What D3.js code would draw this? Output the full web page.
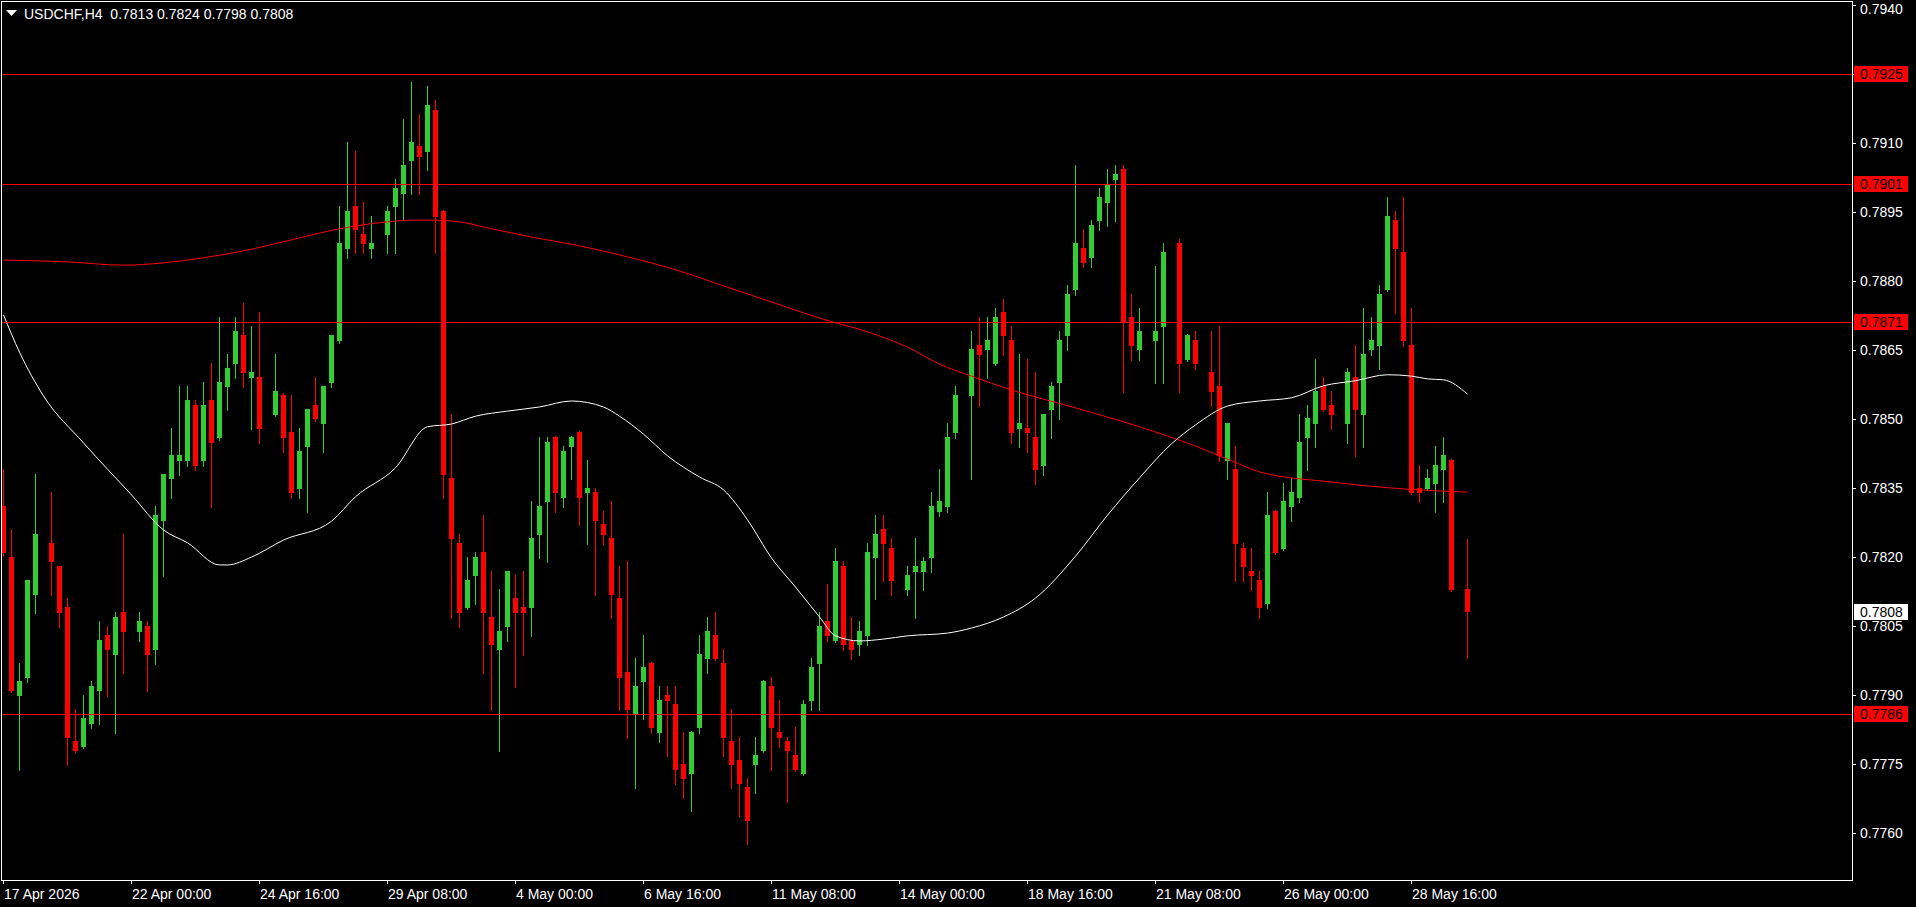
<!DOCTYPE html>
<html><head><meta charset="utf-8">
<script src="https://cdnjs.cloudflare.com/ajax/libs/d3/7.8.5/d3.min.js"></script>
<style>html,body{margin:0;padding:0;background:#000;overflow:hidden}svg{display:block}
text{font-family:"Liberation Sans",Arial,sans-serif;font-size:14px}</style>
</head><body><svg id="c" width="1916" height="907"></svg>
<script>
const symbolTitle = "USDCHF,H4";
const lastBarText = "0.7813 0.7824 0.7798 0.7808";

const open = [
0.78311,0.78200,0.77898,0.77937,0.78118,0.78237,0.78231,0.78181,0.78092,0.77800,
0.77788,0.77837,0.77909,0.78031,0.77987,0.78081,0.78037,0.78037,0.78050,0.77998,
0.78278,0.78370,0.78409,0.78409,0.78530,0.78409,0.78541,0.78459,0.78569,0.78619,
0.78682,0.78589,0.78591,0.78496,0.78509,0.78552,0.78472,0.78348,0.78439,0.78530,
0.78489,0.78578,0.78669,0.78869,0.78963,0.78902,0.78869,0.78889,0.78900,0.78960,
0.78989,0.79060,0.79093,0.79080,0.79171,0.78952,0.78372,0.78231,0.78089,0.78159,
0.78211,0.78070,0.77998,0.78048,0.78111,0.78092,0.78089,0.78248,0.78320,0.78461,
0.78328,0.78439,0.78472,0.78339,0.78341,0.78272,0.78242,0.78111,0.77950,0.77857,
0.77929,0.77970,0.77818,0.77900,0.77881,0.77751,0.77729,0.77829,0.77979,0.78031,
0.77970,0.77800,0.77759,0.77701,0.77748,0.77779,0.77920,0.77820,0.77800,0.77770,
0.77729,0.77887,0.77968,0.78061,0.78018,0.78181,0.78018,0.78009,0.78029,0.78198,
0.78261,0.78220,0.78139,0.78128,0.78168,0.78168,0.78198,0.78298,0.78309,0.78469,
0.78550,0.78550,0.78661,0.78650,0.78619,0.78732,0.78671,0.78478,0.78480,0.78461,
0.78398,0.78520,0.78578,0.78680,0.78780,0.78871,0.78850,0.78930,0.78969,0.79019,
0.79043,0.78722,0.78650,0.78682,0.78669,0.78700,0.78871,0.78882,0.78628,0.78671,
0.78611,0.78602,0.78572,0.78409,0.78391,0.78220,0.78170,0.78150,0.78098,0.78300,
0.78218,0.78309,0.78328,0.78459,0.78489,0.78572,0.78530,0.78502,0.78489,0.78591,
0.78509,0.78650,0.78658,0.78780,0.78932,0.78863,0.78661,0.78350,0.78348,0.78359,
0.78389,0.78411,0.78130,0.78130];
const high = [
0.78391,0.78261,0.77970,0.78150,0.78380,0.78259,0.78341,0.78181,0.78111,0.77870,
0.77900,0.77931,0.78061,0.78050,0.78081,0.78250,0.78052,0.78081,0.78061,0.78311,
0.78380,0.78480,0.78572,0.78572,0.78541,0.78580,0.78622,0.78722,0.78641,0.78722,
0.78752,0.78702,0.78732,0.78515,0.78641,0.78556,0.78552,0.78480,0.78522,0.78591,
0.78572,0.78682,0.78963,0.79102,0.79082,0.78971,0.78941,0.78910,0.78963,0.79021,
0.79152,0.79232,0.79162,0.79223,0.79193,0.78954,0.78511,0.78250,0.78200,0.78211,
0.78291,0.78170,0.78131,0.78170,0.78161,0.78170,0.78322,0.78461,0.78461,0.78463,
0.78441,0.78463,0.78474,0.78411,0.78350,0.78300,0.78322,0.78181,0.78192,0.77981,
0.78031,0.77972,0.77920,0.77920,0.77920,0.77820,0.77822,0.78031,0.78070,0.78081,
0.78000,0.77870,0.77809,0.77720,0.77809,0.77933,0.77940,0.77890,0.77809,0.77831,
0.77890,0.77981,0.78081,0.78142,0.78220,0.78192,0.78070,0.78061,0.78231,0.78291,
0.78291,0.78242,0.78161,0.78181,0.78242,0.78200,0.78341,0.78391,0.78491,0.78572,
0.78567,0.78691,0.78722,0.78722,0.78741,0.78761,0.78702,0.78641,0.78630,0.78602,
0.78511,0.78580,0.78691,0.78791,0.79052,0.78913,0.78932,0.79002,0.79043,0.79052,
0.79052,0.78771,0.78741,0.78704,0.78832,0.78882,0.78889,0.78891,0.78685,0.78691,
0.78632,0.78691,0.78702,0.78491,0.78441,0.78231,0.78220,0.78170,0.78341,0.78302,
0.78361,0.78372,0.78511,0.78530,0.78630,0.78591,0.78561,0.78520,0.78611,0.78661,
0.78741,0.78722,0.78791,0.78982,0.78952,0.78982,0.78741,0.78400,0.78391,0.78441,
0.78461,0.78413,0.78150,0.78240];
const low = [
0.78202,0.77907,0.77738,0.77929,0.78079,0.78215,0.78118,0.78048,0.77748,0.77777,
0.77785,0.77829,0.77837,0.77898,0.77818,0.77948,0.78020,0.78018,0.77909,0.77968,
0.78159,0.78328,0.78378,0.78398,0.78389,0.78398,0.78309,0.78454,0.78520,0.78589,
0.78569,0.78478,0.78448,0.78480,0.78506,0.78428,0.78328,0.78328,0.78298,0.78496,
0.78428,0.78569,0.78665,0.78850,0.78861,0.78861,0.78850,0.78871,0.78861,0.78861,
0.78932,0.78989,0.78989,0.79041,0.78861,0.78328,0.78068,0.78048,0.78087,0.78098,
0.77948,0.77868,0.77779,0.78018,0.77918,0.77987,0.78029,0.78198,0.78189,0.78298,
0.78309,0.78370,0.78270,0.78228,0.78118,0.78228,0.78068,0.77868,0.77807,0.77699,
0.77848,0.77818,0.77798,0.77768,0.77707,0.77677,0.77649,0.77818,0.77948,0.77977,
0.77768,0.77699,0.77638,0.77577,0.77688,0.77777,0.77738,0.77788,0.77668,0.77735,
0.77727,0.77868,0.77868,0.78018,0.78016,0.77998,0.77979,0.77987,0.78009,0.78109,
0.78148,0.78118,0.78118,0.78118,0.78068,0.78128,0.78168,0.78289,0.78298,0.78459,
0.78532,0.78370,0.78528,0.78589,0.78617,0.78639,0.78448,0.78439,0.78428,0.78359,
0.78378,0.78459,0.78500,0.78650,0.78769,0.78830,0.78830,0.78910,0.78919,0.78930,
0.78559,0.78628,0.78628,0.78661,0.78578,0.78578,0.78854,0.78559,0.78626,0.78609,
0.78589,0.78528,0.78409,0.78370,0.78148,0.78148,0.78128,0.78068,0.78089,0.78207,
0.78215,0.78278,0.78320,0.78389,0.78439,0.78517,0.78478,0.78485,0.78448,0.78420,
0.78439,0.78639,0.78609,0.78778,0.78730,0.78658,0.78337,0.78320,0.78346,0.78298,
0.78320,0.78126,0.78111,0.77980];
const close = [
0.78209,0.77909,0.77931,0.78150,0.78250,0.78237,0.78189,0.78079,0.77807,0.77779,
0.77850,0.77920,0.78020,0.77998,0.78070,0.78037,0.78037,0.78061,0.77987,0.78291,
0.78380,0.78422,0.78422,0.78541,0.78398,0.78530,0.78448,0.78580,0.78611,0.78691,
0.78600,0.78602,0.78478,0.78496,0.78561,0.78459,0.78339,0.78430,0.78522,0.78500,
0.78572,0.78682,0.78882,0.78952,0.78910,0.78880,0.78882,0.78889,0.78952,0.79002,
0.79052,0.79102,0.79069,0.79182,0.78939,0.78378,0.78239,0.78079,0.78150,0.78200,
0.78079,0.78009,0.78040,0.78170,0.78079,0.78079,0.78242,0.78311,0.78450,0.78339,
0.78430,0.78461,0.78328,0.78350,0.78278,0.78248,0.78118,0.77937,0.77868,0.77920,
0.77961,0.77829,0.77890,0.77887,0.77738,0.77718,0.77820,0.77990,0.78040,0.77979,
0.77807,0.77748,0.77707,0.77627,0.77770,0.77931,0.77829,0.77807,0.77779,0.77738,
0.77881,0.77961,0.78050,0.78029,0.78192,0.78009,0.77998,0.78040,0.78211,0.78250,
0.78228,0.78148,0.78139,0.78161,0.78181,0.78192,0.78311,0.78322,0.78461,0.78552,
0.78550,0.78652,0.78639,0.78671,0.78722,0.78680,0.78469,0.78491,0.78469,0.78389,
0.78511,0.78572,0.78671,0.78771,0.78882,0.78839,0.78921,0.78982,0.79010,0.79032,
0.78708,0.78658,0.78691,0.78682,0.78691,0.78863,0.78871,0.78619,0.78682,0.78619,
0.78611,0.78559,0.78420,0.78491,0.78228,0.78178,0.78159,0.78089,0.78291,0.78209,
0.78322,0.78341,0.78450,0.78502,0.78561,0.78520,0.78509,0.78502,0.78602,0.78520,
0.78641,0.78671,0.78771,0.78941,0.78869,0.78669,0.78339,0.78339,0.78372,0.78400,
0.78422,0.78128,0.78130,0.78080];

// slow moving average (red) read at bar indices
const maSlowIdx = [0,8,15,20,25,30,36,42,48,52,56,61,66,72,78,84,90,96,102,108,113,117,121,126,134,142,149,153,157,166,175,183];
const maSlowVal = [0.78845,0.78841,0.78834,0.78839,0.78850,0.78865,0.78889,0.78913,0.78928,0.78932,0.78930,0.78913,0.78895,0.78876,0.78852,0.78824,0.78789,0.78754,0.78719,0.78689,0.78656,0.78619,0.78593,0.78563,0.78524,0.78483,0.78441,0.78413,0.78385,0.78363,0.78348,0.78341];
// fast moving average (white)
const maFastIdx = [0,2,5,10,16,20,23,27,28,31,35,41,44,49,53,56,59,63,67,71,75,77,80,83,87,90,93,96,99,102,104,107,110,113,118,121,125,129,134,138,142,146,149,153,157,161,165,169,173,176,178,180,183];
const maFastVal = [0.78726,0.78645,0.78550,0.78448,0.78335,0.78259,0.78231,0.78183,0.78183,0.78200,0.78237,0.78278,0.78331,0.78394,0.78483,0.78489,0.78506,0.78517,0.78526,0.78539,0.78526,0.78506,0.78467,0.78420,0.78374,0.78346,0.78281,0.78198,0.78135,0.78070,0.78029,0.78018,0.78022,0.78029,0.78035,0.78046,0.78070,0.78111,0.78202,0.78291,0.78372,0.78446,0.78487,0.78528,0.78539,0.78546,0.78572,0.78583,0.78596,0.78593,0.78587,0.78585,0.78554];

const hLines = [0.7925, 0.7901, 0.7871, 0.7786];
const lastPrice = 0.7808;
const yTicks = [0.7760,0.7775,0.7790,0.7805,0.7820,0.7835,0.7850,0.7865,0.7880,0.7895,0.7910,0.7925,0.7940];
const xTickIdx = [0,16,32,48,64,80,96,112,128,144,160,176];
const xTickLabels = ["17 Apr 2026","22 Apr 00:00","24 Apr 16:00","29 Apr 08:00","4 May 00:00","6 May 16:00","11 May 08:00","14 May 00:00","18 May 16:00","21 May 08:00","26 May 00:00","28 May 16:00"];

const BULL = "#32cd32", BEAR = "#ff0000", DOJI = "#000000";
const svg = d3.select("#c");
const n = open.length;
const x = d3.scaleLinear().domain([0, n - 1]).range([3.5, 3.5 + 8 * (n - 1)]);
const y = d3.scaleLinear().domain([0.7760, 0.7940]).range([833.4, 4.5]);
const yr = y.copy().interpolate(d3.interpolateRound);

svg.append("defs").append("clipPath").attr("id","plot")
  .append("rect").attr("x",2).attr("y",2).attr("width",1850).attr("height",878);
const plot = svg.append("g").attr("clip-path","url(#plot)");

const bars = d3.range(n).map(i => ({i, o: open[i], h: high[i], l: low[i], c: close[i]}));
const col = d => d.c > d.o ? BULL : (d.c < d.o ? BEAR : DOJI);

plot.append("g").selectAll("rect").data(bars).join("rect")
  .attr("x", d => Math.floor(x(d.i)))
  .attr("width", 1)
  .attr("y", d => yr(d.h))
  .attr("height", d => Math.max(1, yr(d.l) - yr(d.h) + 1))
  .attr("fill", col);
plot.append("g").selectAll("rect").data(bars).join("rect")
  .attr("x", d => Math.floor(x(d.i)) - 2)
  .attr("width", 5)
  .attr("y", d => yr(Math.max(d.o, d.c)))
  .attr("height", d => Math.max(1, yr(Math.min(d.o, d.c)) - yr(Math.max(d.o, d.c))))
  .attr("fill", col);

const line = d3.line().x(d => x(d[0])).y(d => y(d[1])).curve(d3.curveMonotoneX);
plot.append("path").datum(maSlowIdx.map((k, j) => [k, maSlowVal[j]]))
  .attr("d", line).attr("fill","none").attr("stroke","#ff0000").attr("stroke-width",1);
plot.append("path").datum(maFastIdx.map((k, j) => [k, maFastVal[j]]))
  .attr("d", line).attr("fill","none").attr("stroke","#ffffff").attr("stroke-width",1);

plot.append("g").selectAll("line").data(hLines).join("line")
  .attr("x1", 2).attr("x2", 1852)
  .attr("y1", d => yr(d) + 0.5).attr("y2", d => yr(d) + 0.5)
  .attr("stroke", "#ff0000").attr("stroke-width", 1);

// axes
const yAxis = d3.axisRight(yr).tickValues(yTicks).tickFormat(d3.format(".4f")).tickSize(4).tickPadding(4);
const gy = svg.append("g").attr("transform","translate(1852,0)").call(yAxis);
gy.select(".domain").remove();
gy.selectAll(".tick line").attr("stroke","#ffffff");
gy.selectAll(".tick text").attr("fill","#ffffff").style("font-size","14px").style("font-family",'"Liberation Sans",Arial,sans-serif')
  .filter(d => d === 0.7940).attr("dy","0.62em");

const xAxis = d3.axisBottom(x).tickValues(xTickIdx).tickFormat((d, j) => xTickLabels[j]).tickSize(4).tickPadding(5);
const gx = svg.append("g").attr("transform","translate(-0.5,880)").call(xAxis);
gx.select(".domain").remove();
gx.selectAll(".tick line").attr("stroke","#ffffff");
gx.selectAll(".tick text").attr("fill","#ffffff").attr("text-anchor","start").attr("x", 0.5)
  .style("font-size","14px").style("font-family",'"Liberation Sans",Arial,sans-serif');

// price labels of horizontal lines
const lab = svg.append("g");
hLines.forEach(v => {
  lab.append("rect").attr("x",1854).attr("y",yr(v)-8).attr("width",54).attr("height",16).attr("fill","#ff0000");
  lab.append("text").attr("x",1860).attr("y",yr(v)).attr("dy","0.35em").attr("fill","#000").text(d3.format(".4f")(v));
});
lab.append("rect").attr("x",1854).attr("y",yr(lastPrice)-8).attr("width",54).attr("height",16).attr("fill","#ffffff");
lab.append("text").attr("x",1860).attr("y",yr(lastPrice)).attr("dy","0.35em").attr("fill","#000").text(d3.format(".4f")(lastPrice));

// frame
svg.append("rect").attr("x",1.5).attr("y",1.5).attr("width",1851).attr("height",879)
  .attr("fill","none").attr("stroke","#ffffff").attr("stroke-width",1);

// header
svg.append("path").attr("d","M6,10 L17,10 L11.5,16 Z").attr("fill","#ffffff");
svg.append("text").attr("x",24).attr("y",18.5).attr("fill","#ffffff")
  .attr("xml:space","preserve").style("white-space","pre").text(symbolTitle + "  " + lastBarText);
</script>
</body></html>
